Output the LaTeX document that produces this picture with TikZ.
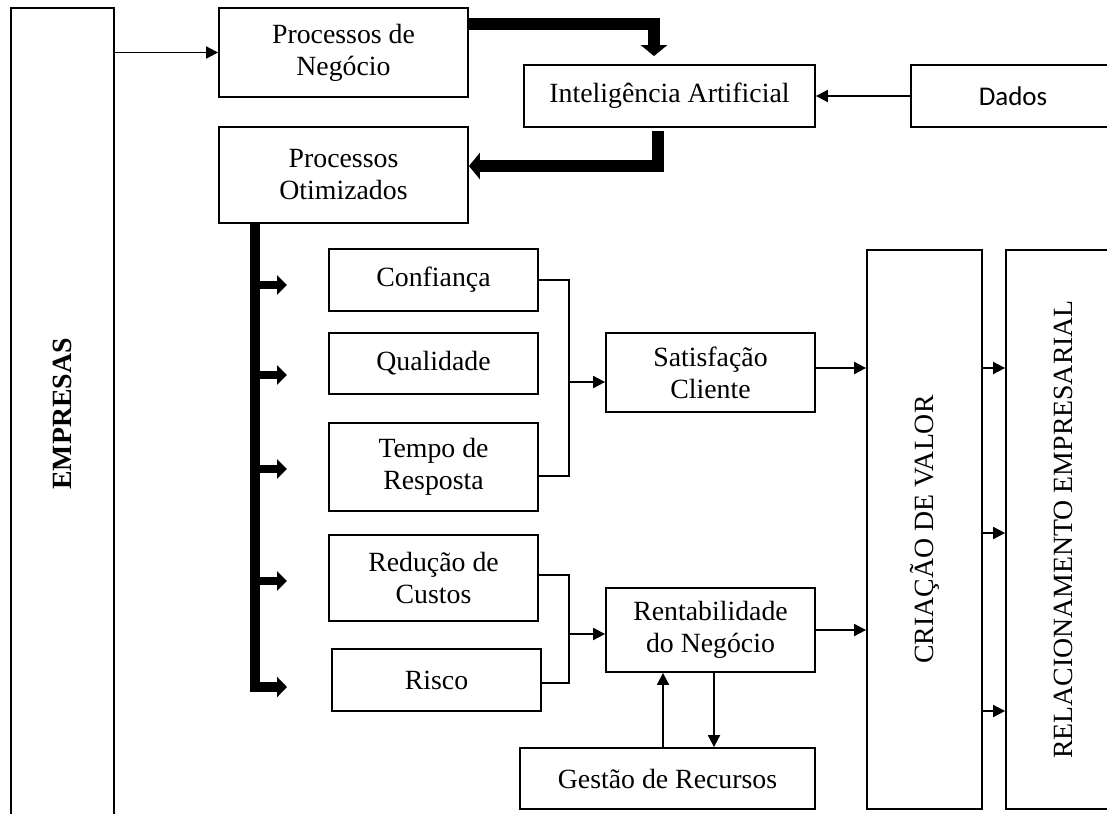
\documentclass[tikz,border=0pt]{standalone}
\usepackage{fontspec}
\setmainfont{Liberation Serif}
\newfontfamily\dadosfont{Carlito}
\usetikzlibrary{arrows.meta}
\definecolor{diagink}{HTML}{000000}
\tikzset{
  box/.style={draw=diagink,line width=0.9pt,align=center,inner sep=2pt,
    font=\fontsize{13.9pt}{16pt}\selectfont},
  link/.style={draw=diagink,line width=0.9pt},
  flow/.style={link,-{Triangle[length=6pt,width=6pt]}},
  heavy flow/.style={draw=diagink,line width=6pt,line join=miter,
    -{Triangle[length=5.5pt,width=13pt]}},
  trunk line/.style={draw=diagink,line width=5pt,line join=miter,
    -{Triangle[length=5pt,width=10pt]}},
  branch/.style={draw=diagink,line width=4pt,-{Triangle[length=5pt,width=9.5pt]}}
}

\begin{document}
\begin{tikzpicture}[x=0.5pt,y=-0.5pt]
  \useasboundingbox (0,0) rectangle (1107,813);
  \clip (0,0) rectangle (1107,813);
  \node[box,rotate=90,minimum width=406pt,minimum height=51.5pt] (emp) at (62.5,414) {\textbf{EMPRESAS}};
  \node[box,minimum width=124.5pt,minimum height=44.5pt] (pn) at (343.5,52.5) {Processos de\\Negócio};
  \node[box,minimum width=124.5pt,minimum height=48pt] (po) at (343.5,175) {Processos\\Otimizados};
  \node[box,minimum width=145.5pt,minimum height=31pt] (ia) at (669.5,96) {Inteligência Artificial};
  \node[box,minimum width=102pt,minimum height=31pt,
    font=\dadosfont\fontsize{13.5pt}{16pt}\selectfont] (dados) at (1013,96) {Dados};

  \node[box,minimum width=104.5pt,minimum height=31pt] (conf) at (433.5,280) {Confiança};
  \node[box,minimum width=104.5pt,minimum height=30.5pt] (qual) at (433.5,363.5) {Qualidade};
  \node[box,minimum width=104.5pt,minimum height=44pt] (tempo) at (433.5,467) {Tempo de\\Resposta};
  \node[box,minimum width=104.5pt,minimum height=43pt] (red) at (433.5,578) {Redução de\\Custos};
  \node[box,minimum width=104.5pt,minimum height=31pt] (risco) at (436.5,680) {Risco};

  \node[box,minimum width=104.5pt,minimum height=39.5pt] (sat) at (710.5,372.5) {Satisfação\\Cliente};
  \node[box,minimum width=104.5pt,minimum height=42pt] (rent) at (710.5,630) {Rentabilidade\\do Negócio};
  \node[box,minimum width=147.5pt,minimum height=30.5pt] (gest) at (667.5,778.5) {Gestão de Recursos};

  \node[box,rotate=90,minimum width=279.5pt,minimum height=57.5pt] (cv) at (924.5,529.5) {CRIAÇÃO DE VALOR};
  \node[box,rotate=90,minimum width=279.5pt,minimum height=57pt] (re) at (1063,529.5) {RELACIONAMENTO EMPRESARIAL};

  \draw[flow] (emp.south |- pn.west) -- (pn.west);
  \draw[heavy flow,shorten >=4pt] ([yshift=14.25pt]pn.east) -| ([xshift=-7.75pt]ia.north);
  \draw[heavy flow] ([xshift=-5.75pt,yshift=-1.5pt]ia.south) |- ([yshift=4.5pt]po.east);
  \draw[flow] (dados.west) -- (ia.east);

  \coordinate (trunk) at ([xshift=-44.25pt]po.south);
  \foreach \y [count=\i] in {285,375,469,581,687}
    \coordinate (b\i) at (287,\y);
  \draw[trunk line] (trunk) |- (b5);
  \foreach \i in {1,...,4}
    \draw[branch] (trunk |- b\i) -- (b\i);

  \coordinate (j1) at (569,382);
  \draw[link] (conf.east) -| (j1) |- ([yshift=-4.5pt]tempo.east);
  \draw[flow] (j1) -- (j1 -| sat.west);
  \coordinate (j2) at (569,634);
  \draw[link] ([yshift=1.5pt]red.east) -| (j2) |- ([yshift=-1.5pt]risco.east);
  \draw[flow] (j2) -- (j2 -| rent.west);

  \coordinate (up) at ([xshift=-2.25pt]gest.north);
  \coordinate (down) at ([xshift=1.75pt]rent.south);
  \draw[flow] (up) -- (up |- rent.south);
  \draw[flow] (down) -- (down |- gest.north);

  \draw[flow] ([yshift=2.25pt]sat.east) -- ([yshift=2.25pt]sat.east -| cv.north);
  \draw[flow] (rent.east) -- (rent.east -| cv.north);
  \foreach \y in {368,533,711}
    \draw[flow] (cv.south |- 0,\y) -- (re.north |- 0,\y);
\end{tikzpicture}
\end{document}
